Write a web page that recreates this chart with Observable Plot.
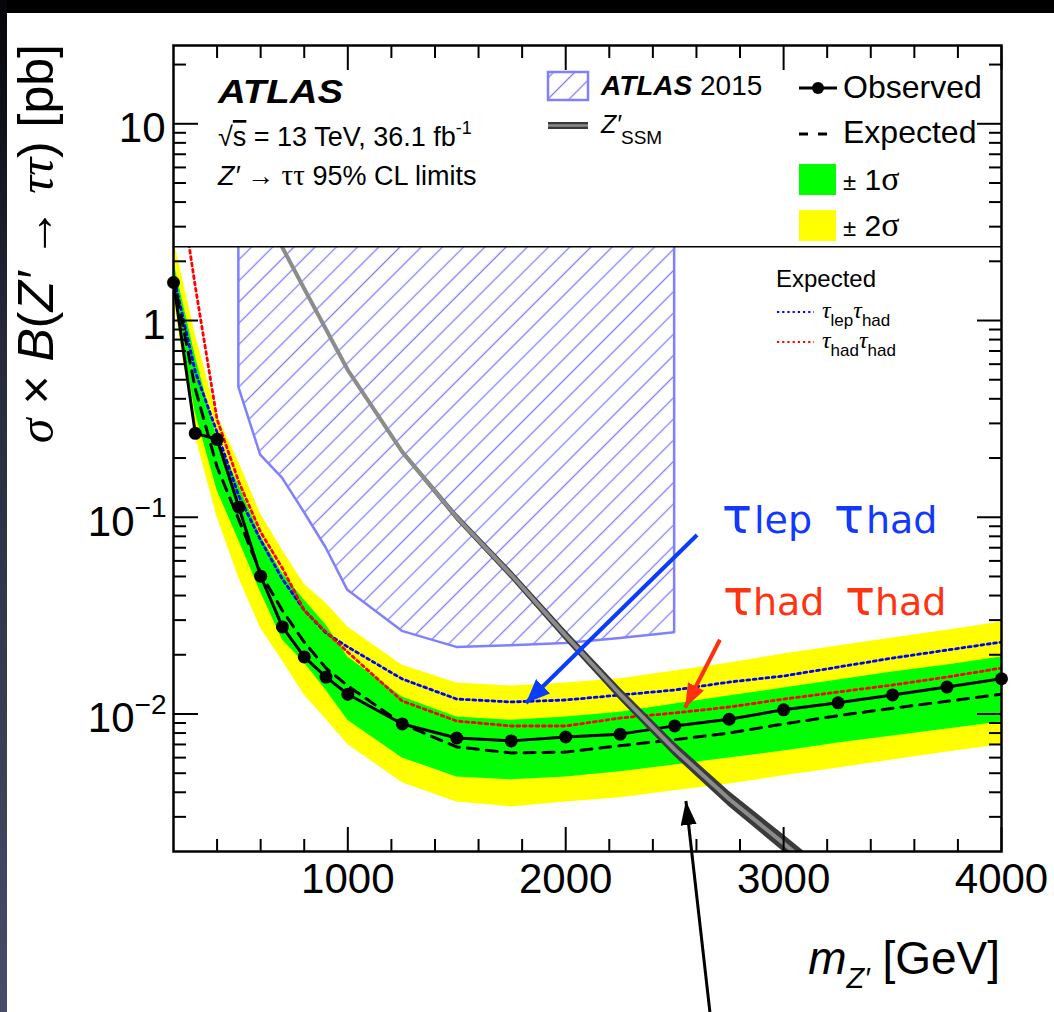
<!DOCTYPE html>
<html><head><meta charset="utf-8">
<script src="https://cdn.jsdelivr.net/npm/d3@7"></script>
<script src="https://cdn.jsdelivr.net/npm/@observablehq/plot@0.6"></script>
<style>
html,body{margin:0;padding:0;background:#fff;}
#wrap{position:relative;width:1054px;height:1012px;overflow:hidden;background:#fff;}
#topstrip{position:absolute;left:0;top:0;width:1054px;height:13px;background:#000;}
#leftstrip{position:absolute;left:0;top:0;width:7px;height:1012px;background:linear-gradient(#05060a,#262a3c 35%,#474d66);}
#chart{position:absolute;left:0;top:0;}
</style></head>
<body><div id="wrap"><div id="chart"></div><div id="topstrip"></div><div id="leftstrip"></div></div>
<script>
// ---------------- data ----------------
const masses       = [200, 300, 400, 500, 600, 700, 800, 900, 1000, 1250, 1500, 1750, 2000, 2250, 2500, 2750, 3000, 3250, 3500, 3750, 4000];
const observed     = [1.56, 0.267, 0.249, 0.1125, 0.0502, 0.0277, 0.0195, 0.0154, 0.0126, 0.0089, 0.00755, 0.0073, 0.00764, 0.0079, 0.0087, 0.0094, 0.0105, 0.0114, 0.0125, 0.0137, 0.0151];
const expected     = [1.65, 0.45, 0.18, 0.097, 0.052, 0.0335, 0.0232, 0.0171, 0.0139, 0.0089, 0.0068, 0.00634, 0.0064, 0.0069, 0.0074, 0.0080, 0.0089, 0.0098, 0.0107, 0.0116, 0.0126];
const minus2Sigma  = [1.3, 0.258, 0.10, 0.049, 0.0273, 0.0186, 0.0125, 0.0094, 0.0070, 0.00447, 0.00357, 0.00337, 0.00357, 0.00375, 0.00407, 0.00441, 0.00485, 0.00532, 0.00584, 0.00641, 0.00697];
const minus1Sigma  = [1.45, 0.34, 0.137, 0.076, 0.0416, 0.0238, 0.0182, 0.0132, 0.0093, 0.00598, 0.00479, 0.00463, 0.00479, 0.00508, 0.00551, 0.00598, 0.00649, 0.00713, 0.00773, 0.00839, 0.00911];
const plus1Sigma   = [2.0, 0.66, 0.25, 0.145, 0.080, 0.052, 0.038, 0.0283, 0.0195, 0.0122, 0.00966, 0.0093, 0.00966, 0.0102, 0.01124, 0.01234, 0.01355, 0.01488, 0.01633, 0.01774, 0.01946];
const plus2Sigma   = [2.6, 0.85, 0.33, 0.19, 0.104, 0.068, 0.0457, 0.0366, 0.0277, 0.0177, 0.01436, 0.01387, 0.01436, 0.0151, 0.01653, 0.01815, 0.02018, 0.02213, 0.02432, 0.02668, 0.02931];
const expLepHad    = [1.69, 0.55, 0.27, 0.128, 0.0764, 0.0484, 0.0337, 0.0258, 0.0219, 0.01506, 0.01191, 0.01151, 0.01178, 0.01249, 0.01324, 0.01453, 0.0156, 0.01732, 0.01924, 0.02113, 0.0232];
const expHadHad    = [8.0, 1.49, 0.314, 0.151, 0.084, 0.055, 0.0337, 0.0261, 0.0206, 0.01164, 0.00921, 0.00869, 0.00869, 0.00954, 0.01012, 0.01085, 0.0119, 0.01293, 0.01404, 0.01541, 0.01712];

const atlas2015Mass  = [500, 600, 700, 800, 900, 1000, 1250, 1500, 1750, 2000, 2250, 2500];
const atlas2015Limit = [0.457, 0.207, 0.158, 0.106, 0.070, 0.0425, 0.0263, 0.0218, 0.0222, 0.0228, 0.0242, 0.0259];

const zssmMass = [600, 800, 1000, 1250, 1500, 1750, 2000, 2250, 2500, 2750, 3000, 3250];
const zssmXsec = [3.8, 1.45, 0.56, 0.215, 0.10, 0.051, 0.025, 0.0126, 0.0066, 0.0037, 0.0022, 0.0013];
const zssmUnc  = [1.01, 1.015, 1.02, 1.03, 1.045, 1.055, 1.065, 1.075, 1.085, 1.095, 1.105, 1.115];

const xDomain = [200, 4000];
const yDomain = [0.002, 25];
const legendBoxBottom = 2.37;

const xMajorTicks = [1000, 2000, 3000, 4000];
const xMinorTicks = [400, 600, 800, 1200, 1400, 1600, 1800, 2200, 2400, 2600, 2800, 3200, 3400, 3600, 3800];
const yMajorTicks = [0.01, 0.1, 1, 10];
const yTickBase   = ["10", "10", "1", "10"];
const yTickExp    = ["−2", "−1", "", ""];
const yMinorTicks = [0.003,0.004,0.005,0.006,0.007,0.008,0.009,0.02,0.03,0.04,0.05,0.06,0.07,0.08,0.09,0.2,0.3,0.4,0.5,0.6,0.7,0.8,0.9,2,3,4,5,6,7,8,9,20];

// annotation arrows [mass, value] -> [mass, value]
const arrowLepHad = [[2605, 0.0808], [1820, 0.0113]];
const arrowHadHad = [[2710, 0.0237], [2550, 0.0107]];
const arrowZssm   = [[2664, 0.000304], [2554, 0.00359]];

// ---------------- build ----------------
const SANS = "'Liberation Sans', Arial, Helvetica, sans-serif";
const SERIF = "'Liberation Serif', 'Times New Roman', serif";
const DJ = "'DejaVu Sans', sans-serif";

const rows = masses.map((m, i) => ({m, obs: observed[i], exp: expected[i], m2: minus2Sigma[i], m1: minus1Sigma[i], p1: plus1Sigma[i], p2: plus2Sigma[i], lh: expLepHad[i], hh: expHadHad[i]}));
const hatchRows = atlas2015Mass.map((m, i) => ({m, lo: atlas2015Limit[i]}));
const zRows = zssmMass.map((m, i) => ({m, z: zssmXsec[i], lo: zssmXsec[i] / zssmUnc[i], hi: zssmXsec[i] * zssmUnc[i]}));
const yLab = yMajorTicks.map((v, i) => ({v, base: yTickBase[i], exp: yTickExp[i]}));

const axisStyle = {stroke: "black", strokeWidth: 2, fill: "none", label: null};

const plot = Plot.plot({
  width: 1054, height: 1012,
  marginLeft: 173, marginRight: 53, marginTop: 45, marginBottom: 161,
  style: {background: "transparent", fontFamily: SANS, overflow: "visible"},
  x: {domain: xDomain, axis: null, label: null},
  y: {type: "log", domain: yDomain, axis: null, label: null},
  marks: [
    Plot.areaY(rows, {x: "m", y1: "m2", y2: "p2", fill: "#ffff00", clip: true}),
    Plot.areaY(rows, {x: "m", y1: "m1", y2: "p1", fill: "#00ff00", clip: true}),
    Plot.line(rows, {x: "m", y: "lh", stroke: "#0000ff", strokeWidth: 2.8, strokeDasharray: "2.8,3.6", clip: true}),
    Plot.line(rows, {x: "m", y: "hh", stroke: "#ff0000", strokeWidth: 2.8, strokeDasharray: "2.8,3.6", clip: true}),
    Plot.line(rows, {x: "m", y: "exp", stroke: "black", strokeWidth: 3, strokeDasharray: "11,8", clip: true}),
    Plot.areaY(hatchRows, {x: "m", y1: "lo", y2: () => yDomain[1], fill: "url(#hatch)", stroke: "#8080ff", strokeWidth: 2.5, clip: true}),
    Plot.line(rows, {x: "m", y: "obs", stroke: "black", strokeWidth: 3, clip: true}),
    Plot.dot(rows, {x: "m", y: "obs", r: 6.5, fill: "black"}),
    Plot.areaY(zRows, {x: "m", y1: "lo", y2: "hi", fill: "#3a3a3a", clip: true}),
    Plot.line(zRows, {x: "m", y: "z", stroke: "#8c8c8c", strokeWidth: 4, clip: true}),
    Plot.rect([0], {x1: () => xDomain[0], x2: () => xDomain[1], y1: () => legendBoxBottom, y2: () => yDomain[1], fill: "white"}),
    Plot.ruleY([legendBoxBottom], {stroke: "black", strokeWidth: 1.5}),
    Plot.axisX(xMajorTicks, {anchor: "bottom", tickSize: -24, ...axisStyle}),
    Plot.axisX(xMinorTicks, {anchor: "bottom", tickSize: -12, ...axisStyle}),
    Plot.axisX(xMajorTicks, {anchor: "top", tickSize: -24, ...axisStyle}),
    Plot.axisX(xMinorTicks, {anchor: "top", tickSize: -12, ...axisStyle}),
    Plot.axisY(yMajorTicks, {anchor: "left", tickSize: -25, ...axisStyle}),
    Plot.axisY(yMinorTicks, {anchor: "left", tickSize: -13, ...axisStyle}),
    Plot.axisY(yMajorTicks, {anchor: "right", tickSize: -25, ...axisStyle}),
    Plot.axisY(yMinorTicks, {anchor: "right", tickSize: -13, ...axisStyle}),
    Plot.frame({stroke: "black", strokeWidth: 2.5}),
    Plot.text(xMajorTicks, {x: d => d, frameAnchor: "bottom", lineAnchor: "top", dy: 12, text: d => String(d), fontSize: 42, fill: "black"}),
    Plot.text(yLab.filter(d => !d.exp), {y: "v", frameAnchor: "left", textAnchor: "end", dx: -8, dy: 5, text: "base", fontSize: 42, fill: "black"}),
    Plot.text(yLab.filter(d => d.exp), {y: "v", frameAnchor: "left", textAnchor: "end", dx: -39, dy: 5, text: "base", fontSize: 42, fill: "black"}),
    Plot.text(yLab.filter(d => d.exp), {y: "v", frameAnchor: "left", textAnchor: "end", dx: -7, dy: -9, text: "exp", fontSize: 28, fill: "black"})
  ]
});
document.getElementById("chart").appendChild(plot);

// ---------------- overlay: defs, legend, titles, annotations ----------------
const svg = d3.select(plot);
const X = plot.scale("x"), Y = plot.scale("y");
const defs = svg.insert("defs", ":first-child");
const pat = defs.append("pattern").attr("id", "hatch").attr("patternUnits", "userSpaceOnUse")
  .attr("width", 15).attr("height", 10).attr("patternTransform", "rotate(45)");
pat.append("line").attr("x1", 7.5).attr("y1", -1).attr("x2", 7.5).attr("y2", 11).attr("stroke", "#8080ff").attr("stroke-width", 1.3);
function marker(id, color, len, wid) {
  defs.append("marker").attr("id", id).attr("markerUnits", "userSpaceOnUse")
    .attr("markerWidth", len).attr("markerHeight", wid).attr("refX", len).attr("refY", wid / 2).attr("orient", "auto")
    .append("path").attr("d", `M0,0L${len},${wid / 2}L0,${wid}Z`).attr("fill", color);
}
marker("headBlue", "#0a3cff", 24, 20);
marker("headRed", "#ff3010", 24, 18);
marker("headBlack", "black", 24, 16);

const g = svg.append("g").attr("font-family", SANS).attr("fill", "black").attr("text-anchor", "start");

// arrows
function arrow(a, color, w, head) {
  g.append("line").attr("x1", X.apply(a[0][0])).attr("y1", Y.apply(a[0][1]))
    .attr("x2", X.apply(a[1][0])).attr("y2", Y.apply(a[1][1]))
    .attr("stroke", color).attr("stroke-width", w).attr("marker-end", `url(#${head})`);
}
arrow(arrowLepHad, "#0a3cff", 4, "headBlue");
arrow(arrowHadHad, "#ff3010", 4, "headRed");
arrow(arrowZssm, "black", 3, "headBlack");

// annotation texts
function tauText(xs, y, color, sub1, sub2) {
  const t = g.append("text").attr("y", y).attr("fill", color).attr("font-family", DJ);
  t.append("tspan").attr("x", xs[0]).attr("font-size", 50).text("τ");
  t.append("tspan").attr("x", xs[1]).attr("font-size", 38).text(sub1);
  t.append("tspan").attr("x", xs[2]).attr("font-size", 50).text("τ");
  t.append("tspan").attr("x", xs[3]).attr("font-size", 38).text(sub2);
}
tauText([722, 754, 834, 866], 533, "#1238ff", "lep", "had");
tauText([723, 753, 845, 875], 615, "#ff3311", "had", "had");

// y title
const yt = g.append("text").attr("transform", "translate(53,44) rotate(-90)").attr("text-anchor", "end").attr("font-size", 50);
yt.append("tspan").attr("font-family", SERIF).attr("font-style", "italic").text("σ");
yt.append("tspan").text(" × ");
yt.append("tspan").attr("font-style", "italic").text("B");
yt.append("tspan").text("(");
yt.append("tspan").attr("font-style", "italic").text("Z′");
yt.append("tspan").text(" → ");
yt.append("tspan").attr("font-family", SERIF).attr("font-style", "italic").text("ττ");
yt.append("tspan").text(") [pb]");

// x title
const xt = g.append("text").attr("x", 1000).attr("y", 974).attr("text-anchor", "end").attr("font-size", 46);
xt.append("tspan").attr("font-style", "italic").text("m");
xt.append("tspan").attr("font-size", 29).attr("font-style", "italic").attr("dy", 14).text("Z′");
xt.append("tspan").attr("dy", -14).text(" [GeV]");

// ATLAS label block
g.append("text").attr("x", 218).attr("y", 103).attr("font-size", 34).attr("font-weight", "bold").attr("font-style", "italic")
  .attr("textLength", 125).attr("lengthAdjust", "spacingAndGlyphs").text("ATLAS");
const l2 = g.append("text").attr("x", 218).attr("y", 146).attr("font-size", 27);
l2.append("tspan").text("√");
l2.append("tspan").attr("text-decoration", "overline").text("s");
l2.append("tspan").text(" = 13 TeV, 36.1 fb");
l2.append("tspan").attr("font-size", 18).attr("dy", -12).text("-1");
const l3 = g.append("text").attr("x", 218).attr("y", 185).attr("font-size", 27);
l3.append("tspan").attr("font-style", "italic").text("Z′");
l3.append("tspan").text(" → ");
l3.append("tspan").attr("font-family", SERIF).attr("font-size", 29).text("ττ");
l3.append("tspan").text(" 95% CL limits");

// legend: ATLAS 2015 hatched box
g.append("rect").attr("x", 548).attr("y", 72).attr("width", 40).attr("height", 28).attr("fill", "url(#hatch)").attr("stroke", "#8080ff").attr("stroke-width", 2.5);
const a15 = g.append("text").attr("x", 601).attr("y", 95).attr("font-size", 28);
a15.append("tspan").attr("font-weight", "bold").attr("font-style", "italic").text("ATLAS");
a15.append("tspan").text(" 2015");
// Z'SSM
g.append("rect").attr("x", 548).attr("y", 122).attr("width", 40).attr("height", 7).attr("fill", "#3a3a3a");
g.append("line").attr("x1", 548).attr("x2", 588).attr("y1", 125.5).attr("y2", 125.5).attr("stroke", "#8c8c8c").attr("stroke-width", 2.5);
const zl = g.append("text").attr("x", 601).attr("y", 133).attr("font-size", 25);
zl.append("tspan").attr("font-style", "italic").text("Z′");
zl.append("tspan").attr("font-size", 19).attr("dy", 11).text("SSM");

// Observed / Expected / bands
g.append("line").attr("x1", 799).attr("x2", 837).attr("y1", 88).attr("y2", 88).attr("stroke", "black").attr("stroke-width", 3);
g.append("circle").attr("cx", 818).attr("cy", 88).attr("r", 6);
g.append("text").attr("x", 843).attr("y", 98).attr("font-size", 32).text("Observed");
g.append("line").attr("x1", 799).attr("x2", 829).attr("y1", 134).attr("y2", 134).attr("stroke", "black").attr("stroke-width", 3).attr("stroke-dasharray", "9,10");
g.append("text").attr("x", 843).attr("y", 143).attr("font-size", 32).text("Expected");
g.append("rect").attr("x", 799).attr("y", 164).attr("width", 37).attr("height", 31).attr("fill", "#00ff00");
g.append("rect").attr("x", 799).attr("y", 210).attr("width", 37).attr("height", 31).attr("fill", "#ffff00");
function sigText(y, n) {
  const t = g.append("text").attr("x", 843).attr("y", y).attr("font-size", 30);
  t.append("tspan").attr("font-size", 24).text("±");
  t.append("tspan").text(" " + n);
  t.append("tspan").attr("font-family", SERIF).attr("font-size", 34).text("σ");
}
sigText(190, "1");
sigText(236, "2");

// Expected sub-legend
g.append("text").attr("x", 776).attr("y", 287).attr("font-size", 24).text("Expected");
g.append("line").attr("x1", 777).attr("x2", 814).attr("y1", 312).attr("y2", 312).attr("stroke", "#0000ff").attr("stroke-width", 2.2).attr("stroke-dasharray", "2.2,3");
g.append("line").attr("x1", 777).attr("x2", 814).attr("y1", 342).attr("y2", 342).attr("stroke", "#ff0000").attr("stroke-width", 2.2).attr("stroke-dasharray", "2.2,3");
function smallTau(y, s1, s2) {
  const t = g.append("text").attr("x", 822).attr("y", y).attr("font-size", 24);
  t.append("tspan").attr("font-family", SERIF).attr("font-style", "italic").text("τ");
  t.append("tspan").attr("font-size", 17).attr("dy", 8).text(s1);
  t.append("tspan").attr("font-family", SERIF).attr("font-style", "italic").attr("dy", -8).text("τ");
  t.append("tspan").attr("font-size", 17).attr("dy", 8).text(s2);
}
smallTau(318, "lep", "had");
smallTau(348, "had", "had");
</script>
</body></html>
